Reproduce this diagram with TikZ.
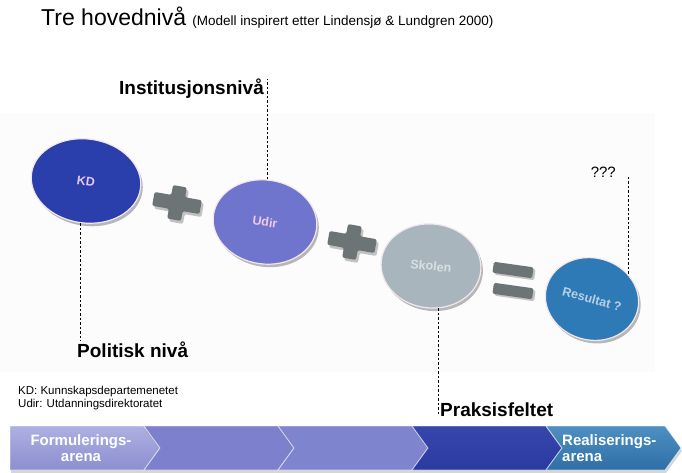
\documentclass[tikz,border=0pt]{standalone}
\usepackage{fontspec}
\setmainfont{Liberation Sans}
\usepackage{xcolor}
\usepackage{tikz}
\usetikzlibrary{shapes.geometric, shadows}

\definecolor{bandgray}{HTML}{FCFCFC}
\definecolor{shadowgray}{HTML}{8A8A8A}
\definecolor{rimwhite}{HTML}{F4E6F0}
\definecolor{signgray}{HTML}{6C7475}
\definecolor{kdblue}{HTML}{2A3EAC}
\definecolor{kdtext}{HTML}{E6C8EF}
\definecolor{udirblue}{HTML}{6F75CD}
\definecolor{udirtext}{HTML}{F0C8E8}
\definecolor{skolegray}{HTML}{A8B5BC}
\definecolor{skoletext}{HTML}{D8E0E4}
\definecolor{resblue}{HTML}{2E7AB6}
\definecolor{restext}{HTML}{B8D0E8}
\definecolor{chevAtop}{HTML}{AEB0E2}
\definecolor{chevAbot}{HTML}{8C8ED0}
\definecolor{chevB}{HTML}{7C80CD}
\definecolor{chevC}{HTML}{7E84CE}
\definecolor{chevDtop}{HTML}{3646AC}
\definecolor{chevDbot}{HTML}{2B3AA0}
\definecolor{chevEtop}{HTML}{4E90C2}
\definecolor{chevEbot}{HTML}{2E6EA6}

\tikzset{
  disc/.style={ellipse, draw=rimwhite, line width=1.2pt, inner sep=0pt,
    font=\fontsize{12.5}{14}\selectfont\bfseries,
    drop shadow={shadow xshift=2pt, shadow yshift=-3pt, fill=shadowgray, opacity=.6}},
  leader/.style={line width=0.6pt, dash pattern=on 2.5pt off 2pt},
  levellabel/.style={font=\fontsize{19}{22}\selectfont\bfseries, inner sep=0pt},
  chevlabel/.style={text=white, font=\fontsize{15}{16}\selectfont\bfseries, inner sep=0pt}
}

\begin{document}
\begin{tikzpicture}[x=1pt, y=-1pt]
    \useasboundingbox (0,0) rectangle (682,473);
    \fill[bandgray] (0,113) rectangle (655,372);

    \node[anchor=base west, inner sep=0pt] (title) at (41,26) {\fontsize{23}{27}\selectfont Tre hovednivå {\fontsize{13.5}{16}\selectfont (Modell inspirert etter Lindensjø \& Lundgren 2000)}};

    \foreach \px/\py in {177/203, 352/242} {
        \fill[shadowgray, opacity=.5, shift={(\px+2,\py+3)}, rotate=-10, rounded corners=2pt]
            (-24,-7) -- (-7,-7) -- (-7,-17) -- (7,-17) -- (7,-7) -- (24,-7) -- (24,7) -- (7,7) -- (7,17) -- (-7,17) -- (-7,7) -- (-24,7) -- cycle;
        \fill[signgray, shift={(\px,\py)}, rotate=-10, rounded corners=2pt]
            (-24,-7) -- (-7,-7) -- (-7,-17) -- (7,-17) -- (7,-7) -- (24,-7) -- (24,7) -- (7,7) -- (7,17) -- (-7,17) -- (-7,7) -- (-24,7) -- cycle;
    }
    \foreach \ey in {270, 291} {
        \fill[shadowgray, opacity=.5, rotate around={-8:(515,\ey+2)}, rounded corners=1.5pt] (495,\ey-3.5) rectangle (535,\ey+7.5);
        \fill[signgray, rotate around={-8:(513,\ey)}, rounded corners=1.5pt] (493,\ey-5.5) rectangle (533,\ey+5.5);
    }

    \node[disc, fill=kdblue, text=kdtext, minimum width=110pt, minimum height=84pt, rotate=-8] (kd) at (86,181) {KD};
    \node[disc, fill=udirblue, text=udirtext, minimum width=104pt, minimum height=84pt, rotate=-8] (udir) at (265,222) {Udir};
    \node[disc, fill=skolegray, text=skoletext, minimum width=100pt, minimum height=84pt, rotate=-6] (skolen) at (431,266) {Skolen};
    \node[disc, fill=resblue, text=restext, minimum width=94pt, minimum height=82pt, rotate=-15] (resultat) at (592,299) {Resultat ?};

    \node[levellabel, anchor=base east] (inst) at (264,95) {Institusjonsnivå};
    \node[levellabel, anchor=base west] (pol) at (77,357) {Politisk nivå};
    \node[levellabel, anchor=base west] (prak) at (440,416) {Praksisfeltet};
    \node[anchor=base east, inner sep=0pt, font=\fontsize{15}{17}\selectfont] (ukjent) at (616,178) {???};

    \draw[leader] (kd.south) -- (kd.south |- pol.north);
    \draw[leader] (udir.95) -- (udir.95 |- inst.north);
    \draw[leader] (skolen.-74) -- (skolen.-74 |- prak.south);
    \draw[leader] (resultat.50) -- (resultat.50 |- ukjent.mid);

    \node[anchor=base west, inner sep=0pt, font=\fontsize{11.5}{14}\selectfont] (kdnote) at (18,394) {KD: Kunnskapsdepartemenetet};
    \node[anchor=base west, inner sep=0pt, font=\fontsize{11.5}{14}\selectfont] (udirnote) at (18,407) {Udir: Utdanningsdirektoratet};

    \foreach \l/\r/\n/\ct/\cb in {10/144/0/chevAtop/chevAbot, 144/278/16/chevB/chevB, 278/412/16/chevC/chevC, 412/546/16/chevDtop/chevDbot, 546/665/16/chevEtop/chevEbot} {
        \fill[shadowgray, opacity=.35] (\l+1,429) -- (\r+1,429) -- (\r+17,451) -- (\r+1,473) -- (\l+1,473) -- (\l+\n+1,451) -- cycle;
        \shade[top color=\ct, bottom color=\cb, draw=white, draw opacity=.6, line width=.8pt]
            (\l,426) -- (\r,426) -- (\r+16,448) -- (\r,470) -- (\l,470) -- (\l+\n,448) -- cycle;
    }
    \node[chevlabel, align=center] (formulering) at (81,448) {Formulerings-\\arena};
    \node[chevlabel, align=left, anchor=west] (realisering) at (562,448) {Realiserings-\\arena};
\end{tikzpicture}
\end{document}
